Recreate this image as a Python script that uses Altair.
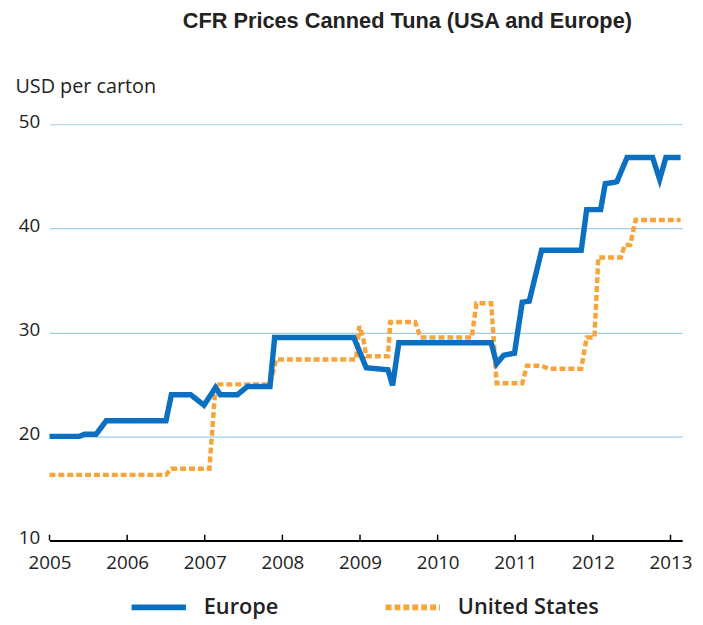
import altair as alt
import pandas as pd

# ---- data ----
eu_year = [2005.00, 2005.38, 2005.45, 2005.60, 2005.73, 2006.50, 2006.57, 2006.82, 2006.99,
           2007.14, 2007.20, 2007.42, 2007.55, 2007.84, 2007.90, 2008.92, 2009.08, 2009.36,
           2009.42, 2009.50, 2010.69, 2010.76, 2010.85, 2010.99, 2011.09, 2011.18, 2011.34,
           2011.85, 2011.92, 2012.10, 2012.16, 2012.26, 2012.31, 2012.44, 2012.77, 2012.86,
           2012.94, 2013.13]
eu_value = [20.0, 20.0, 20.2, 20.2, 21.5, 21.5, 24.0, 24.0, 23.0,
            24.7, 24.0, 24.0, 24.8, 24.8, 29.5, 29.5, 26.6, 26.4,
            24.9, 29.0, 29.0, 27.0, 27.8, 28.0, 32.9, 33.0, 37.9,
            37.9, 41.8, 41.8, 44.3, 44.4, 44.5, 46.8, 46.8, 44.7,
            46.8, 46.8]

us_year = [2005.00, 2006.50, 2006.57, 2007.06, 2007.14, 2007.84, 2007.92, 2008.95, 2008.99,
           2009.04, 2009.08, 2009.36, 2009.39, 2009.71, 2009.78, 2010.44, 2010.50, 2010.69,
           2010.76, 2011.09, 2011.15, 2011.34, 2011.43, 2011.85, 2011.92, 2012.02, 2012.07,
           2012.36, 2012.41, 2012.48, 2012.55, 2013.13]
us_value = [16.3, 16.3, 16.9, 16.9, 25.0, 25.0, 27.4, 27.4, 30.6,
            29.5, 27.7, 27.7, 31.0, 31.0, 29.5, 29.5, 32.8, 32.8,
            25.1, 25.1, 26.8, 26.8, 26.5, 26.5, 29.5, 29.5, 37.2,
            37.2, 38.4, 38.4, 40.8, 40.8]

series_names = ["Europe", "United States"]
series_colors = ["#0d6fc0", "#f6a43b"]
tick_years = [2005, 2006, 2007, 2008, 2009, 2010, 2011, 2012, 2013]
y_ticks = [10, 20, 30, 40, 50]

df = pd.concat([
    pd.DataFrame({"year": eu_year, "value": eu_value, "series": "Europe"}),
    pd.DataFrame({"year": us_year, "value": us_value, "series": "United States"}),
])
ticks_df = pd.DataFrame({"year": tick_years})

color_scale = alt.Scale(domain=series_names, range=series_colors)
dash_scale = alt.Scale(domain=series_names, range=[[1, 0], [6, 3]])

legend = alt.Legend(
    title=None, orient="none", legendX=80, legendY=458, direction="horizontal",
    symbolType="stroke", symbolSize=3025, symbolStrokeWidth=6,
    labelFont="Open Sans", labelFontSize=22, labelFontWeight=600, labelColor="#222",
    labelOffset=15, columnPadding=96,
)

x_enc = alt.X(
    "year:Q",
    scale=alt.Scale(domain=[2005, 2013.15], nice=False, zero=False),
    axis=alt.Axis(values=tick_years, format="d", title=None, grid=False, ticks=False,
                  domainColor="black", domainWidth=2, labelFont="Open Sans",
                  labelFontSize=19, labelPadding=13, labelColor="#222", labelFlush=False),
)
y_enc = alt.Y(
    "value:Q",
    scale=alt.Scale(domain=[10, 50], nice=False, zero=False),
    axis=alt.Axis(values=y_ticks, title="USD per carton", titleAngle=0, titleAlign="left",
                  titleX=-35, titleY=-32, titleBaseline="alphabetic", titleFont="Open Sans",
                  titleFontSize=20, titleFontWeight="normal", titleColor="#222",
                  domain=False, ticks=False, grid=True, gridColor="#9ccfe6", gridWidth=1.2,
                  gridOpacity=1, labelOffset=-3,
                  labelFont="Open Sans", labelFontSize=19, labelPadding=10, labelColor="#222"),
)

base = alt.Chart(df)
us_line = base.transform_filter(alt.datum.series == "United States").mark_line(
    strokeWidth=4.5
).encode(
    x=x_enc, y=y_enc,
    color=alt.Color("series:N", scale=color_scale, legend=legend),
    strokeDash=alt.StrokeDash("series:N", scale=dash_scale, legend=legend),
)
eu_line = base.transform_filter(alt.datum.series == "Europe").mark_line(
    strokeWidth=5.5
).encode(
    x=x_enc, y=y_enc,
    color=alt.Color("series:N", scale=color_scale, legend=legend),
    strokeDash=alt.StrokeDash("series:N", scale=dash_scale, legend=legend),
)
tick_marks = alt.Chart(ticks_df).mark_rule(color="black", strokeWidth=1.5).encode(
    x=alt.X("year:Q"), y=alt.datum(10), y2=alt.datum(10.55)
)

chart = alt.layer(us_line, eu_line, tick_marks).properties(
    width=640, height=421,
    autosize=alt.AutoSizeParams(type="none"),
    padding={"left": 42, "top": 114, "right": 13, "bottom": 90},
    title=alt.TitleParams(
        "CFR Prices Canned Tuna (USA and Europe)", font="Liberation Sans", fontSize=22,
        fontWeight="bold", color="#222", anchor="middle", dx=42, offset=44, frame="group",
    ),
    background="white",
).configure_view(stroke=None)

chart.save("out.html", embed_options={"renderer": "svg", "actions": False})
